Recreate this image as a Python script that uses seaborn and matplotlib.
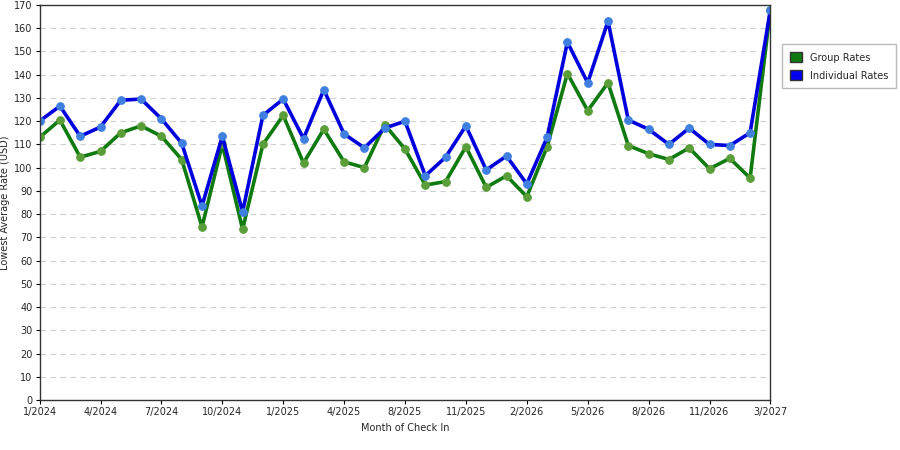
import matplotlib
matplotlib.use("Agg")
import matplotlib.pyplot as plt
import seaborn as sns
import pandas as pd
from matplotlib.patches import Patch

months = ["1/2024","2/2024","3/2024","4/2024","5/2024","6/2024","7/2024","8/2024","9/2024","10/2024",
          "11/2024","12/2024","1/2025","2/2025","3/2025","4/2025","6/2025","7/2025","8/2025","9/2025",
          "10/2025","11/2025","12/2025","1/2026","2/2026","3/2026","4/2026","5/2026","6/2026","7/2026",
          "8/2026","9/2026","10/2026","11/2026","12/2026","1/2027","3/2027"]
group_rates = [113,120.5,104.5,107,115,118,113.5,103.5,74.5,110,73.5,110,122.5,102,116.5,102.5,100,118.5,
               108,92.5,94,109,91.5,96.5,87.5,109,140.5,124.5,136.5,109.5,106,103.5,108.5,99.5,104,95.5,168]
indiv_rates = [120,126.5,113.5,117.5,129,129.5,121,110.5,83.5,113.5,81,122.5,129.5,112.5,133.5,114.5,108.5,117,
               120,96.5,104.5,118,99,105,93,113,154,136.5,163,120.5,116.5,110,117,110,109.5,115,168]

df = pd.DataFrame({"idx": range(len(months)), "month": months,
                   "Group Rates": group_rates, "Individual Rates": indiv_rates})

sns.set_style("white")
fig = plt.figure(figsize=(9, 4.5), dpi=100)
ax = fig.add_axes([0.044, 0.111, 0.812, 0.878])
ax.yaxis.grid(True, linestyle=(0, (5, 4)), color="#d0d0d0", linewidth=0.8)
ax.set_axisbelow(True)

for col, c, mc in [("Group Rates", "#0f7a0f", "#5a9e3a"), ("Individual Rates", "#0000dd", "#3f7fe0")]:
    sns.lineplot(data=df, x="idx", y=col, ax=ax, color=c, linewidth=2.6,
                 marker="o", markersize=5.5, markerfacecolor=mc, markeredgecolor=mc, legend=False)

ax.set_xlim(0, len(months) - 1)
ax.set_ylim(0, 170)
ax.set_yticks(range(0, 171, 10))
ticks = list(range(0, len(months), 3))
ax.set_xticks(ticks)
ax.set_xticklabels([months[i] for i in ticks])
ax.tick_params(axis="both", labelsize=7, length=3, color="black", direction="out", left=True, bottom=True, pad=2)
for s in ax.spines.values():
    s.set_color("#333333"); s.set_linewidth(1)
ax.set_xlabel("Month of Check In", fontsize=7)
ax.set_ylabel("Lowest Average Rate (USD)", fontsize=7, labelpad=3)

handles = [Patch(facecolor="#0f7a0f", edgecolor="#333333", label="Group Rates"),
           Patch(facecolor="#0000ee", edgecolor="#333333", label="Individual Rates")]
fig.legend(handles=handles, loc="upper left", bbox_to_anchor=(0.864, 0.912), fontsize=7,
           frameon=True, fancybox=False, edgecolor="#aaaaaa", handlelength=1.2, handleheight=1.2,
           borderpad=0.8, labelspacing=0.8)
fig.savefig("out.png", dpi=100)
